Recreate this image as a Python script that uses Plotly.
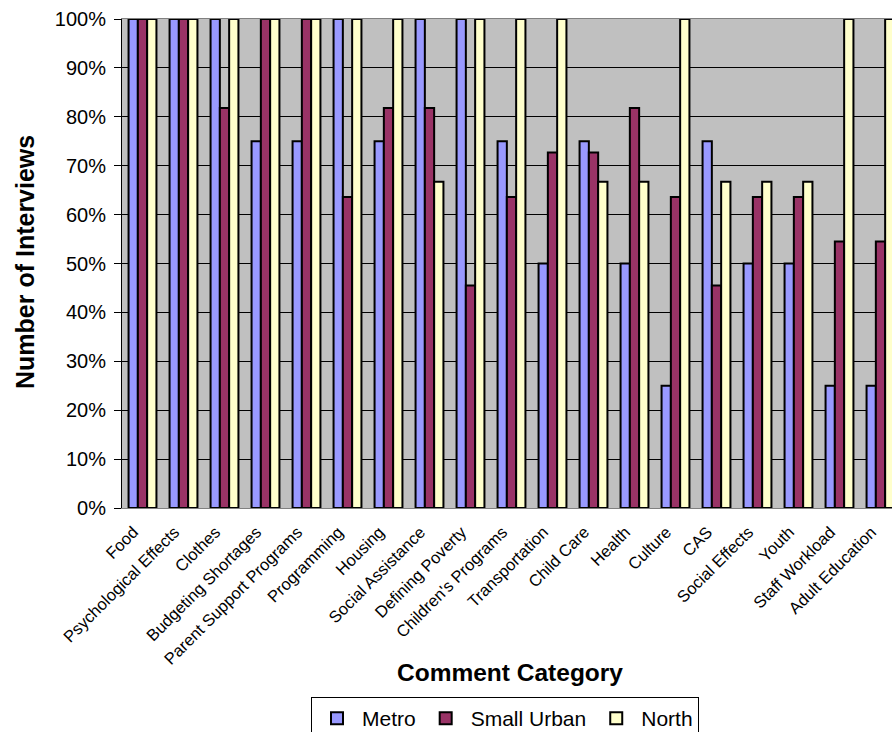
import plotly.graph_objects as go

# Comment categories along the x axis
categories = [
    "Food", "Psychological Effects", "Clothes", "Budgeting Shortages",
    "Parent Support Programs", "Programming", "Housing", "Social Assistance",
    "Defining Poverty", "Children's Programs", "Transportation", "Child Care",
    "Health", "Culture", "CAS", "Social Effects", "Youth", "Staff Workload",
    "Adult Education",
]

# Share of interviews mentioning each category, per region
metro = [1.00, 1.00, 1.00, 0.75, 0.75, 1.00, 0.75, 1.00, 1.00, 0.75,
         0.50, 0.75, 0.50, 0.25, 0.75, 0.50, 0.50, 0.25, 0.25]
small_urban = [1.00, 1.00, 0.818, 1.00, 1.00, 0.636, 0.818, 0.818, 0.455, 0.636,
               0.727, 0.727, 0.818, 0.636, 0.455, 0.636, 0.636, 0.545, 0.545]
north = [1.00, 1.00, 1.00, 1.00, 1.00, 1.00, 1.00, 0.667, 1.00, 1.00,
         1.00, 0.667, 0.667, 1.00, 0.667, 0.667, 0.667, 1.00, 1.00]

series = [
    ("Metro", metro, "#9999FF"),
    ("Small Urban", small_urban, "#993366"),
    ("North", north, "#FFFFCC"),
]

FONT = "Arial, Liberation Sans, sans-serif"
W, H = 892, 732
ML, MR, MT, MB = 122, 0, 19, 224
PW, PH = W - ML - MR, H - MT - MB

def px_x(px):
    return (px - ML) / PW

def px_y(py):
    return (H - MB - py) / PH

x_idx = list(range(len(categories)))

fig = go.Figure()
for name, vals, color in series:
    fig.add_trace(go.Bar(
        x=x_idx, y=vals, name=name,
        marker=dict(color=color, line=dict(color="black", width=2)),
    ))

fig.update_layout(
    width=W, height=H,
    margin=dict(l=ML, r=MR, t=MT, b=MB, autoexpand=False),
    paper_bgcolor="white",
    plot_bgcolor="#C0C0C0",
    barmode="group",
    bargap=0.32,
    bargroupgap=0,
    font=dict(family=FONT, color="black"),
    showlegend=True,
    legend=dict(
        orientation="h",
        x=px_x(505), xanchor="center",
        y=px_y(697), yanchor="top",
        bordercolor="black", borderwidth=1,
        bgcolor="white",
        itemwidth=40,
        font=dict(size=21, family=FONT),
    ),
    xaxis=dict(
        range=[-0.5, PW / 41.0 - 0.5],
        tickmode="array", tickvals=x_idx, ticktext=categories,
        tickangle=-45,
        tickfont=dict(size=16.5, family=FONT),
        ticklabelshift=-9,
        ticklabelstandoff=7,
        showgrid=False,
        showline=True, linecolor="#808080", linewidth=1, mirror=True,
        ticks="",
        zeroline=False,
    ),
    yaxis=dict(
        range=[0, 1],
        dtick=0.1,
        tickformat=".0%",
        tickfont=dict(size=20, family=FONT),
        ticklabelstandoff=4,
        showgrid=True, gridcolor="black", gridwidth=1,
        showline=True, linecolor="black", linewidth=1,
        ticks="outside", ticklen=7, tickcolor="black",
        zeroline=False,
    ),
    annotations=[
        dict(text="<b>Comment Category</b>", xref="paper", yref="paper",
             x=px_x(510), y=px_y(672), xanchor="center", yanchor="middle",
             showarrow=False, font=dict(size=24.5, family=FONT)),
        dict(text="<b>Number of Interviews</b>", xref="paper", yref="paper",
             x=px_x(25), y=px_y(262), xanchor="center", yanchor="middle",
             textangle=-90, showarrow=False, font=dict(size=25, family=FONT)),
    ],
)

fig.write_html("out.html")
